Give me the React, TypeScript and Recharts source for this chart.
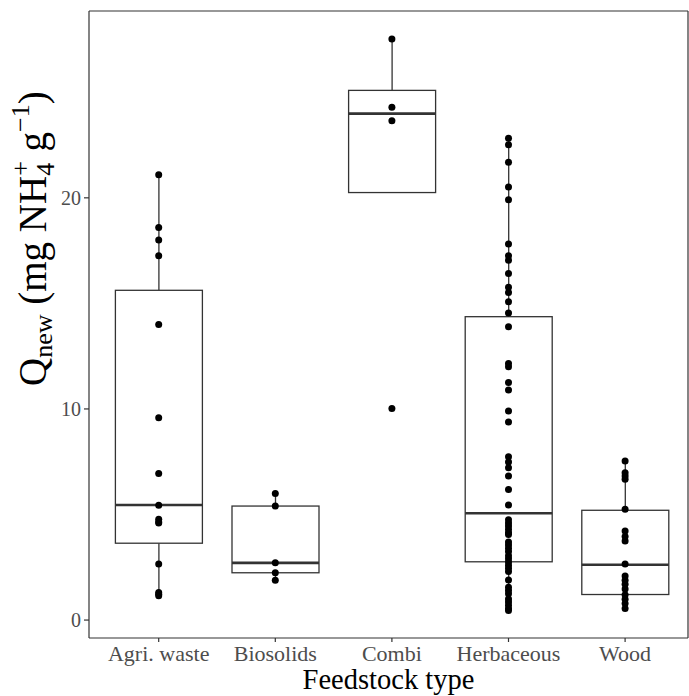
import React from 'react';
import { ComposedChart, Bar, Scatter, XAxis, YAxis } from 'recharts';

const categories = ['Agri. waste', 'Biosolids', 'Combi', 'Herbaceous', 'Wood'];

const agriWaste = [21.09, 18.6, 18.0, 17.26, 14.0, 9.58, 6.94, 5.44, 4.78, 4.65, 4.6, 2.65, 1.31, 1.22, 1.15];
const biosolids = [6.0, 5.4, 2.71, 2.24, 1.88];
const combi = [27.52, 24.29, 23.65, 10.02];
const herbaceous = [
  22.82, 22.51, 21.69, 20.51, 19.91, 17.81, 17.26, 17.04, 16.41, 15.76, 15.52, 15.08, 14.55, 13.89,
  12.15, 12.0, 11.25, 10.9, 9.9, 9.38, 7.74, 7.49, 7.22, 6.82, 6.19, 5.45,
  4.75, 4.6, 4.45, 4.3, 4.15, 4.05, 3.7, 3.55, 3.4, 3.25, 3.05, 2.9, 2.75, 2.6, 2.45, 2.3,
  1.9, 1.55, 1.4, 1.25, 1.0, 0.85, 0.7, 0.55, 0.45,
];
const wood = [7.53, 6.98, 6.82, 6.67, 5.25, 4.22, 3.96, 3.75, 2.65, 2.09, 1.89, 1.7, 1.47, 1.2, 0.99, 0.79, 0.55];

const q1 = [3.64, 2.24, 20.25, 2.76, 1.21];
const median = [5.45, 2.71, 23.99, 5.06, 2.62];
const q3 = [15.62, 5.4, 25.09, 14.37, 5.2];
const whiskerLow = [1.15, 1.88, 20.25, 0.45, 0.55];
const whiskerHigh = [21.09, 6.0, 27.52, 22.82, 7.53];

const yTicks = [0, 10, 20];

const seriesPoints = [agriWaste, biosolids, combi, herbaceous, wood];

const boxData = categories.map((name, i) => ({
  name,
  range: [q1[i], q3[i]],
  q1: q1[i],
  median: median[i],
  q3: q3[i],
  lo: whiskerLow[i],
  hi: whiskerHigh[i],
}));

const pointData = categories.flatMap((name, i) => seriesPoints[i].map((value) => ({ name, value })));

const LINE = '#333333';
const SERIF = '"Liberation Serif", "Times New Roman", serif';

const BoxShape = (props: any) => {
  const { x, y, width, height, payload } = props;
  const k = height / (payload.q3 - payload.q1);
  const pix = (v: number) => y + (payload.q3 - v) * k;
  const cx = x + width / 2;
  return (
    <g>
      <line x1={cx} x2={cx} y1={pix(payload.q3)} y2={pix(payload.hi)} stroke={LINE} strokeWidth={1.3} />
      <line x1={cx} x2={cx} y1={pix(payload.q1)} y2={pix(payload.lo)} stroke={LINE} strokeWidth={1.3} />
      <rect x={x} y={y} width={width} height={height} fill="#ffffff" stroke={LINE} strokeWidth={1.3} />
      <line x1={x} x2={x + width} y1={pix(payload.median)} y2={pix(payload.median)} stroke={LINE} strokeWidth={2.6} />
    </g>
  );
};

const Dot = (props: any) => {
  const { cx, cy } = props;
  return <circle cx={cx} cy={cy} r={3.5} fill="#000000" />;
};

const YTitle = (props: any) => {
  const vb = props.viewBox || { x: 0, y: 0, width: 89, height: 627 };
  const F = 39;
  const s = 26;
  const bx = vb.x + 46;
  const by = vb.y + 375;
  return (
    <text
      x={bx}
      y={by}
      transform={`rotate(-90, ${bx}, ${by})`}
      fontFamily={SERIF}
      fontSize={F}
      fill="#000000"
      textAnchor="start"
      style={{ whiteSpace: 'pre' }}
    >
      <tspan>Q</tspan>
      <tspan fontSize={s} dy={6}>new</tspan>
      <tspan fontSize={F} dy={-6}> (mg NH</tspan>
      <tspan fontSize={s} dy={8}>4</tspan>
      <tspan fontSize={s} dx={-13} dy={-25}>+</tspan>
      <tspan fontSize={F} dy={17}> g</tspan>
      <tspan fontSize={s} dy={-17}>−1</tspan>
      <tspan fontSize={F} dy={17}>)</tspan>
    </text>
  );
};

const XTitle = (props: any) => {
  const vb = props.viewBox || { x: 89, y: 638, width: 599, height: 58 };
  return (
    <text x={vb.x + vb.width / 2} y={vb.y + 51} textAnchor="middle" fontFamily={SERIF} fontSize={28.5} fill="#000000">
      Feedstock type
    </text>
  );
};

export default function App() {
  return (
    <div style={{ position: 'absolute', left: 0, top: 0, background: '#ffffff' }}>
      <ComposedChart width={689} height={696} data={boxData} margin={{ top: 10, right: 0, bottom: 0, left: 0 }}>
        <XAxis
          dataKey="name"
          type="category"
          allowDuplicatedCategory={false}
          padding={{ left: 11.4, right: 4.6 }}
          height={58}
          tickSize={4}
          tickMargin={3}
          axisLine={{ stroke: LINE, strokeWidth: 1.2 }}
          tickLine={{ stroke: LINE, strokeWidth: 1.2 }}
          tick={{ fill: '#4d4d4d', fontSize: 22, fontFamily: SERIF }}
          interval={0}
          label={{ content: XTitle }}
        />
        <XAxis
          xAxisId="top"
          orientation="top"
          dataKey="name"
          type="category"
          allowDuplicatedCategory={false}
          height={1}
          tick={false}
          tickLine={false}
          axisLine={{ stroke: LINE, strokeWidth: 1.2 }}
        />
        <YAxis
          type="number"
          domain={[-0.85, 28.85]}
          ticks={yTicks}
          width={89}
          tickSize={5}
          tickMargin={3}
          axisLine={{ stroke: LINE, strokeWidth: 1.2 }}
          tickLine={{ stroke: LINE, strokeWidth: 1.2 }}
          tick={{ fill: '#4d4d4d', fontSize: 20, fontFamily: SERIF }}
          allowDataOverflow
          label={{ content: YTitle }}
        />
        <YAxis
          yAxisId="right"
          orientation="right"
          type="number"
          domain={[-0.85, 28.85]}
          width={1}
          tick={false}
          tickLine={false}
          axisLine={{ stroke: LINE, strokeWidth: 1.2 }}
        />
        <Bar dataKey="range" barSize={87} shape={BoxShape} isAnimationActive={false} />
        <Scatter data={pointData} dataKey="value" shape={Dot} isAnimationActive={false} />
      </ComposedChart>
    </div>
  );
}
